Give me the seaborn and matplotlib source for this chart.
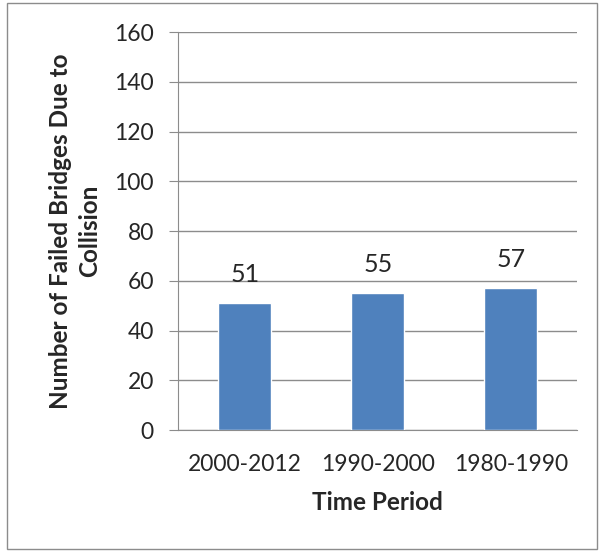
import matplotlib
matplotlib.use("Agg")
import matplotlib.pyplot as plt
import numpy as np
import pandas as pd
import seaborn as sns

periods = ["2000-2012", "1990-2000", "1980-1990"]
failed_bridges = [51, 55, 57]
y_ticks = [0, 20, 40, 60, 80, 100, 120, 140, 160]

sns.set_style("white")
plt.rcParams["font.family"] = ["Lato", "DejaVu Sans"]

df = pd.DataFrame({"period": periods, "count": failed_bridges})

fig = plt.figure(figsize=(6, 5.52), dpi=100)
ax = fig.add_axes([0.297, 0.221, 0.665, 0.721])

sns.barplot(data=df, x="period", y="count", color="#4F81BD", width=0.4,
            saturation=1, ax=ax, zorder=3)

# data labels above bars
for i, v in enumerate(failed_bridges):
    ax.text(i, v + 11.5, str(v), ha="center", va="center", fontsize=18)

ax.set_ylim(0, 160)
ax.set_yticks(y_ticks)
ax.set_xlim(-0.5, len(periods) - 0.5)
ax.yaxis.grid(True, color="#8c8c8c", linewidth=1, zorder=0)
ax.set_axisbelow(True)

# Excel style: ticks between categories
ax.set_xticks(np.arange(len(periods)), labels=periods)
ax.set_xticks(np.arange(len(periods) + 1) - 0.5, minor=True)
ax.tick_params(axis="x", which="major", length=0, labelsize=16.5, pad=17)
ax.tick_params(axis="x", which="minor", length=7, color="#8c8c8c", direction="out")
ax.tick_params(axis="y", length=6.5, color="#8c8c8c", direction="out",
               labelsize=16.5, left=True, pad=11)

for side in ["top", "right"]:
    ax.spines[side].set_visible(False)
for side in ["left", "bottom"]:
    ax.spines[side].set_color("#8c8c8c")

ax.set_xlabel("Time Period", fontsize=17.5, fontweight="bold", labelpad=12)
ax.set_ylabel("Number of Failed Bridges Due to\nCollision", fontsize=17.5,
              fontweight="bold", linespacing=1.3)
ax.yaxis.set_label_coords(-0.193, 0.5)

# outer chart border
border = plt.Rectangle((0.011, 0.005), 0.984, 0.99, transform=fig.transFigure,
                       fill=False, edgecolor="#8c8c8c", linewidth=1)
fig.patches.append(border)

fig.savefig("out.png", dpi=100)
